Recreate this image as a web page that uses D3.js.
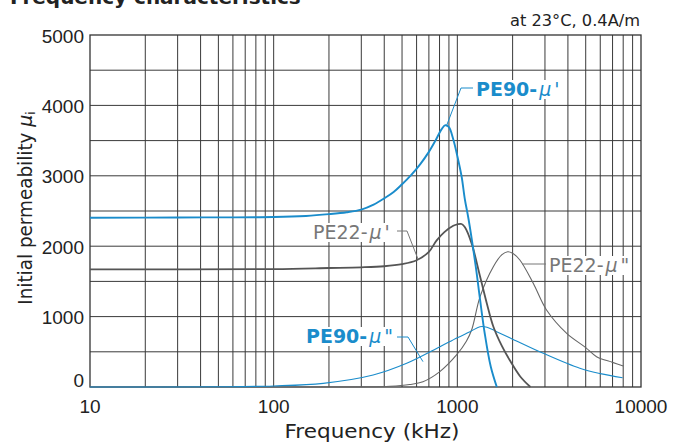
<!DOCTYPE html>
<html><head><meta charset="utf-8">
<script src="https://cdn.jsdelivr.net/npm/d3@7"></script>
<style>body{margin:0;background:#fff}svg{display:block}text{font-family:"DejaVu Sans","Liberation Sans",Arial,sans-serif}</style>
</head><body><svg id="c" width="684" height="442"></svg>
<script>
// ---- data ----
const xTicks = [10, 100, 1000, 10000];
const yTicks = [0, 1000, 2000, 3000, 4000, 5000];
const yGrid = [500, 1000, 1500, 2000, 2500, 3000, 3500, 4000, 4500];

const pe90muP_f = [10, 30, 100, 150, 200, 250, 300, 350, 400, 450, 500, 560, 630, 700, 760, 820, 860, 900, 950, 1000, 1055, 1100, 1150, 1260, 1330, 1410, 1520, 1640];
const pe90muP_v = [2405, 2408, 2415, 2430, 2455, 2482, 2520, 2590, 2680, 2770, 2880, 3010, 3170, 3340, 3500, 3660, 3720, 3690, 3520, 3280, 2990, 2660, 2390, 1710, 1240, 760, 290, 0];

const pe22muP_f = [10, 100, 200, 300, 400, 500, 600, 700, 770, 850, 950, 1000, 1055, 1100, 1196, 1330, 1450, 1570, 1750, 1930, 2200, 2500];
const pe22muP_v = [1670, 1675, 1690, 1700, 1715, 1745, 1800, 1920, 2080, 2200, 2290, 2310, 2315, 2270, 2040, 1570, 1180, 860, 580, 380, 150, 0];

const pe22muPP_f = [10, 100, 300, 430, 550, 650, 800, 990, 1120, 1200, 1330, 1570, 1750, 1880, 2000, 2190, 2590, 3060, 3940, 5000, 5730, 7000, 8000];
const pe22muPP_v = [0, 0, 2, 10, 35, 75, 215, 455, 650, 820, 1283, 1709, 1880, 1922, 1900, 1804, 1473, 1094, 762, 560, 430, 350, 298];

const pe90muPP_f = [10, 50, 100, 186, 348, 530, 804, 1000, 1172, 1328, 1450, 1637, 2000, 2938, 4645, 6000, 7943];
const pe90muPP_v = [0, 3, 15, 52, 170, 336, 572, 700, 785, 857, 850, 786, 680, 478, 265, 190, 132];

// ---- chart ----
const svg = d3.select("#c");
const x = d3.scaleLog().domain([10, 10000]).range([90, 641]);
const y = d3.scaleLinear().domain([0, 5000]).range([387, 35]);
const blue = "#1a8ccb", gridC = "#3a3a3a", ink = "#222";
const numFont = "'Liberation Sans', Arial, sans-serif";

// title (clipped at the top edge, as in the reference)
svg.append("text").attr("x", 10).attr("y", 4).attr("font-size", 20).attr("font-weight", "bold").attr("fill", ink).text("Frequency characteristics");
svg.append("text").attr("x", 640).attr("y", 26).attr("text-anchor", "end").attr("font-size", 16).attr("fill", ink)
  .attr("textLength", 130).attr("lengthAdjust", "spacingAndGlyphs").text("at 23°C, 0.4A/m");

// vertical grid (log minor + major)
const vGrid = [];
for (let d = 10; d < 10000; d *= 10) for (let k = 2; k <= 9; k++) vGrid.push(d * k);
xTicks.slice(1, -1).forEach(v => vGrid.push(v));
svg.append("g").selectAll("line").data(vGrid).join("line")
  .attr("x1", d => x(d)).attr("x2", d => x(d)).attr("y1", y(0)).attr("y2", y(5000))
  .attr("stroke", gridC).attr("stroke-width", 1);
svg.append("g").selectAll("line").data(yGrid).join("line")
  .attr("x1", x(10)).attr("x2", x(10000)).attr("y1", d => y(d)).attr("y2", d => y(d))
  .attr("stroke", gridC).attr("stroke-width", 1);
svg.append("rect").attr("x", x(10)).attr("y", y(5000)).attr("width", x(10000) - x(10)).attr("height", y(0) - y(5000))
  .attr("fill", "none").attr("stroke", "#333").attr("stroke-width", 1.3);

// axes labels
svg.append("g").selectAll("text").data(yTicks).join("text")
  .attr("x", 84).attr("y", d => d === 0 ? y(d) - 7 : y(d) + 1).attr("dy", "0.35em").style("font-family", numFont)
  .attr("text-anchor", "end").attr("font-size", 19).attr("fill", ink).text(d => d);
svg.append("g").selectAll("text").data(xTicks).join("text").style("font-family", numFont)
  .attr("x", d => x(d)).attr("y", 413).attr("text-anchor", "middle").attr("font-size", 19).attr("fill", ink).text(d => d);
svg.append("text").attr("x", 372).attr("y", 438).attr("text-anchor", "middle").attr("font-size", 19).attr("fill", ink)
  .attr("textLength", 175).attr("lengthAdjust", "spacingAndGlyphs").text("Frequency (kHz)");
const yt = svg.append("text").attr("transform", "translate(32,208) rotate(-90)").attr("text-anchor", "middle").attr("font-size", 19).attr("fill", ink);
yt.append("tspan").attr("textLength", 178).attr("lengthAdjust", "spacingAndGlyphs").text("Initial permeability ");
yt.append("tspan").attr("font-style", "italic").text("μ");
yt.append("tspan").attr("font-size", 12).attr("dy", 3).text("i");

// curves
const line = d3.line().x(d => x(d[0])).y(d => y(d[1])).curve(d3.curveCatmullRom.alpha(0.5));
const zip = (f, v) => f.map((a, i) => [a, v[i]]);
const series = [
  {d: zip(pe22muPP_f, pe22muPP_v), c: "#666", w: 1.1},
  {d: zip(pe90muPP_f, pe90muPP_v), c: blue, w: 1.1},
  {d: zip(pe22muP_f, pe22muP_v), c: "#555", w: 1.8},
  {d: zip(pe90muP_f, pe90muP_v), c: blue, w: 1.9},
];
svg.append("g").selectAll("path").data(series).join("path")
  .attr("d", s => line(s.d)).attr("fill", "none").attr("stroke", s => s.c).attr("stroke-width", s => s.w);

// labels with leaders
function label(tx, ty, main, prime, color, bold, leader) {
  const g = svg.append("g");
  g.append("path").attr("d", d3.line()(leader)).attr("fill", "none").attr("stroke", color).attr("stroke-width", 1);
  const t = g.append("text").attr("x", tx).attr("y", ty).attr("font-size", 19).attr("fill", color);
  t.append("tspan").attr("font-weight", bold ? "bold" : "normal").text(main);
  t.append("tspan").attr("font-style", "italic").attr("dx", 2).text("μ");
  t.append("tspan").attr("dx", 3).text(prime);
  const b = t.node().getBBox();
  g.insert("rect", "text").attr("x", b.x - 2).attr("y", b.y + 2).attr("width", b.width + 4).attr("height", b.height - 3).attr("fill", "#fff");
}
label(476, 96, "PE90-", "'", blue, true, [[473, 88], [461, 88], [x(870), y(3700)]]);
label(313, 239, "PE22-", "'", "#777", false, [[397, 231], [407, 231], [x(612), y(1810)]]);
label(549, 272, "PE22-", "\"", "#777", false, [[546, 264], [522, 264]]);
label(306, 343, "PE90-", "\"", blue, true, [[397, 337], [408, 337], [x(650), y(360)]]);
</script></body></html>
